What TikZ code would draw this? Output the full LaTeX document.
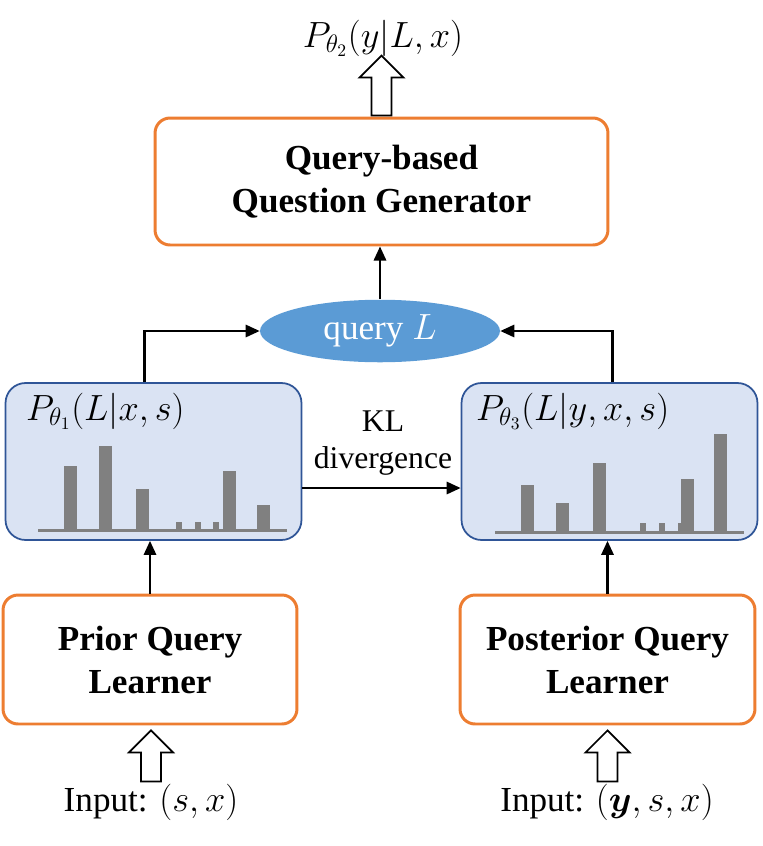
\documentclass[tikz,border=0pt]{standalone}
\usepackage{amsmath,amssymb}
\usepackage{fontspec}
\setmainfont{Liberation Serif}
\usepackage{tikz}
\usetikzlibrary{calc}
\usetikzlibrary{arrows.meta}
\usetikzlibrary{shapes.geometric}

\definecolor{boxorange}{HTML}{ED7D31}
\definecolor{distfill}{HTML}{DAE3F3}
\definecolor{distline}{HTML}{2F5597}
\definecolor{queryblue}{HTML}{5B9BD5}
\definecolor{bargray}{HTML}{808080}

\begin{document}
\begin{tikzpicture}[x=0.02cm,y=-0.02cm,
  learner/.style={draw=boxorange,line width=1.7pt,rounded corners=0.3cm,fill=white,
    align=center,font=\bfseries\fontsize{20}{24.5}\selectfont},
  dist/.style={draw=distline,line width=1pt,rounded corners=0.4cm,fill=distfill,
    minimum width=5.92cm,minimum height=3.14cm},
  conn/.style={line width=1.3pt,-{Triangle[length=8pt,width=7pt]}},
  pics/hollow/.style={code={\draw[line width=1pt,fill=white] (0,0) -- (22,22) -- (10,22)
    -- (10,#1) -- (-10,#1) -- (-10,22) -- (-22,22) -- cycle;}},
  txt/.style={font=\fontsize{20}{24}\selectfont}]
  \useasboundingbox (0,0) rectangle (762,846);

  % boxes
  \node[learner,minimum width=9.06cm,minimum height=2.54cm] (gen) at (381.5,181.5)
    {Query-based\\Question Generator};
  \node[ellipse,fill=queryblue,minimum width=4.8cm,minimum height=1.06cm,text=white,
    font=\fontsize{20}{24}\selectfont] (query) at (380,331) {query $L$};
  \node[dist] (pdist) at (153.5,461.5) {};
  \node[dist] (qdist) at (609.5,461.5) {};
  \node[learner,minimum width=5.88cm,minimum height=2.58cm] (prior) at (150,659.5)
    {Prior Query\\Learner};
  \node[learner,minimum width=5.9cm,minimum height=2.58cm] (post) at (607.5,659.5)
    {Posterior Query\\Learner};

  % labels
  \node[txt,anchor=west] (plabel) at (20,411) {$P_{\theta_1}(L|x,s)$};
  \node[txt,anchor=west] (qlabel) at (470,411) {$P_{\theta_3}(L|y,x,s)$};
  \node[txt] (out) at (383,38) {$P_{\theta_2}(y|L,x)$};
  \node[align=center,font=\fontsize{18}{21}\selectfont] (kl) at (383,443) {KL\\divergence};
  \node[txt] (pin) at (151,802) {Input: $(s,x)$};
  \node[txt] (qin) at (607,802) {Input: $(\boldsymbol{y},s,x)$};

  % bars
  \foreach \bx/\btop in {64/466,99/446,136/489,223/471,257/505}
    \fill[bargray] (\bx,530) rectangle (\bx+13,\btop);
  \foreach \bx in {176,195,213}
    \fill[bargray] (\bx,530) rectangle (\bx+6,522);
  \draw[bargray,line width=1.7pt] (38,530) -- (287,530);
  \foreach \bx/\btop in {521/485,556/503,593/463,681/479,714/434}
    \fill[bargray] (\bx,532) rectangle (\bx+13,\btop);
  \foreach \bx in {640,659,678}
    \fill[bargray] (\bx,532) rectangle (\bx+6,523);
  \draw[bargray,line width=1.7pt] (495,532) -- (744,532);

  % connectors
  \draw[conn] (query.north) -- (query.north |- gen.south);
  \draw[conn] ($(pdist.north)+(-9,0)$) |- (query.west);
  \draw[conn] ($(qdist.north)+(3,0)$) |- (query.east);
  \draw[conn] ($(pdist.east)+(0,26.5)$) -- ($(qdist.west)+(0,26.5)$);
  \draw[conn] (prior.north) -- (prior.north |- pdist.south);
  \draw[conn] (post.north) -- (post.north |- qdist.south);

  % hollow arrows
  \pic at ($(gen.north)+(0,-61)$) {hollow=60};
  \pic at ($(prior.south)+(1,5)$) {hollow=51};
  \pic at ($(post.south)+(0,5)$) {hollow=51};
\end{tikzpicture}
\end{document}
